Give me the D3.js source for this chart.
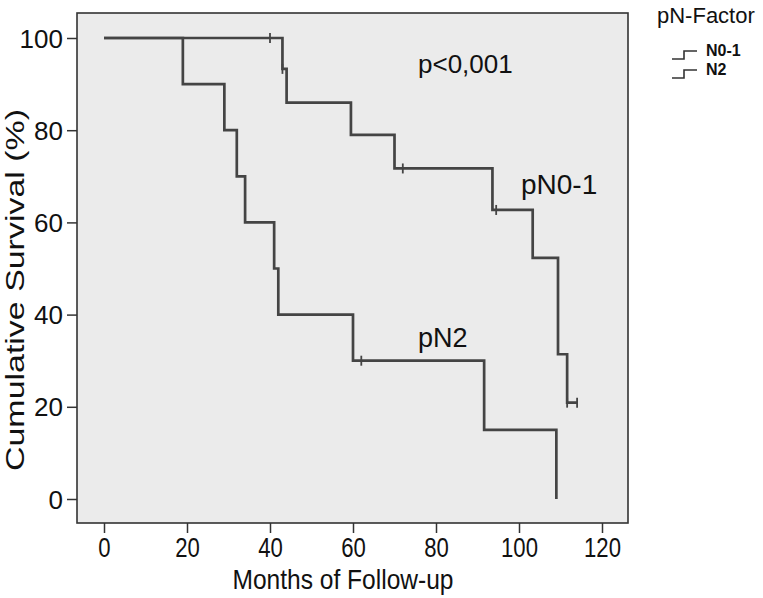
<!DOCTYPE html>
<head>
  <meta charset="utf-8">
  <title>km.html</title>
</head>
<style>
body { margin: 0; background: #fff; }
text { font-family: "Liberation Sans", Arial, sans-serif; fill: #111; }
.curve { fill: none; stroke: #444; stroke-width: 2.7; }
.censor { stroke: #444; stroke-width: 1.8; }
</style>
<svg width="763" height="598"></svg>
<script src="https://d3js.org/d3.v7.min.js"></script>
<script>
// pN0-1 group: event times (months) and survival (%) after each event
var n01Times = [43, 44, 59.5, 70, 93.6, 103.3, 109.4, 111.6];
var n01Surv = [93.3, 86.0, 79.0, 71.7, 62.7, 52.3, 31.4, 20.9];
var n01Censored = [40, 43, 72, 94.5, 111.6, 114];
var n01End = 114;

// pN2 group
var n2Times = [19, 29, 32, 34, 41, 42, 60, 91.6, 109];
var n2Surv = [90, 80, 70, 60, 50, 40, 30, 15, 0];
var n2Censored = [62];
var n2End = 109;

var xTicks = [0, 20, 40, 60, 80, 100, 120];
var yTicks = [0, 20, 40, 60, 80, 100];
var legendLabels = ["N0-1", "N2"];

var svg = d3.select("svg");

var x = d3.scaleLinear().domain([0, 120]).range([104, 602]);
var y = d3.scaleLinear().domain([0, 100]).range([499, 38]);

var frame = { left: 77, top: 13, right: 628, bottom: 523 };

svg.append("rect")
  .attr("x", frame.left).attr("y", frame.top)
  .attr("width", frame.right - frame.left)
  .attr("height", frame.bottom - frame.top)
  .attr("fill", "#ebebeb")
  .attr("stroke", "#333").attr("stroke-width", 1.6);

// axes
var yAxis = svg.append("g")
  .attr("transform", "translate(" + frame.left + ",0)")
  .call(d3.axisLeft(y).tickValues(yTicks).tickSize(10).tickPadding(4));
var xAxis = svg.append("g")
  .attr("transform", "translate(0," + frame.bottom + ")")
  .call(d3.axisBottom(x).tickValues(xTicks).tickSize(10).tickPadding(5));

[xAxis, yAxis].forEach(function(g) {
  g.select(".domain").remove();
  g.selectAll("line").attr("stroke", "#333").attr("stroke-width", 1.5);
  g.selectAll("text").attr("fill", "#111").style("font-family", '"Liberation Sans", Arial, sans-serif');
});
yAxis.selectAll("text").style("font-size", "26px").attr("dy", "0.35em");
// x tick labels look condensed in the original
xAxis.selectAll("text").style("font-size", "27px").attr("transform", "scale(0.82,1)");

function stepPoints(times, surv, end) {
  var pts = [[0, 100]];
  times.forEach(function(t, i) { pts.push([t, surv[i]]); });
  var last = pts[pts.length - 1];
  if (end > last[0]) pts.push([end, last[1]]);
  return pts;
}
function survAt(times, surv, t) {
  var s = 100;
  times.forEach(function(tt, i) { if (tt <= t) s = surv[i]; });
  return s;
}

var line = d3.line()
  .x(function(d) { return x(d[0]); })
  .y(function(d) { return y(d[1]); })
  .curve(d3.curveStepAfter);

var groups = [
  { times: n01Times, surv: n01Surv, cens: n01Censored, end: n01End },
  { times: n2Times, surv: n2Surv, cens: n2Censored, end: n2End }
];

groups.forEach(function(g) {
  svg.append("path")
    .attr("class", "curve")
    .attr("d", line(stepPoints(g.times, g.surv, g.end)));
  svg.selectAll(null)
    .data(g.cens)
    .enter().append("line")
      .attr("class", "censor")
      .attr("x1", function(d) { return x(d); })
      .attr("x2", function(d) { return x(d); })
      .attr("y1", function(d) { return y(survAt(g.times, g.surv, d)) - 5; })
      .attr("y2", function(d) { return y(survAt(g.times, g.surv, d)) + 5; });
});

// annotations
svg.append("text").attr("x", 418).attr("y", 73).style("font-size", "26px").text("p<0,001");
svg.append("text").attr("x", 521).attr("y", 194).style("font-size", "28px").text("pN0-1");
svg.append("text").attr("x", 418).attr("y", 347).style("font-size", "27px").text("pN2");

// axis titles
svg.append("text")
  .attr("x", 343).attr("y", 589)
  .attr("text-anchor", "middle")
  .attr("textLength", 221).attr("lengthAdjust", "spacingAndGlyphs")
  .style("font-size", "28px")
  .text("Months of Follow-up");
svg.append("text")
  .attr("transform", "translate(24,290) rotate(-90)")
  .attr("text-anchor", "middle")
  .attr("textLength", 362).attr("lengthAdjust", "spacingAndGlyphs")
  .style("font-size", "25px")
  .text("Cumulative Survival (%)");

// legend
svg.append("text").attr("x", 657).attr("y", 23).style("font-size", "22px").text("pN-Factor");
var leg = svg.selectAll(".leg")
  .data(legendLabels)
  .enter().append("g")
    .attr("class", "leg")
    .attr("transform", function(d, i) { return "translate(672," + (50 + i * 19) + ")"; });
leg.append("path")
  .attr("d", "M0,9H12V1H25")
  .attr("fill", "none").attr("stroke", "#333").attr("stroke-width", 1.6);
leg.append("text")
  .attr("x", 34).attr("y", 6)
  .style("font-size", "16px").style("font-weight", "bold")
  .text(function(d) { return d; });
</script>
